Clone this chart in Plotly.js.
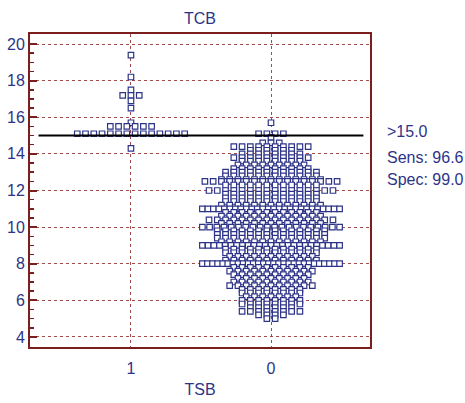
<!DOCTYPE html>
<html><head><meta charset="utf-8">
<script src="https://cdn.plot.ly/plotly-3.0.1.min.js"></script>
<style>html,body{margin:0;padding:0;background:#fff}</style>
</head><body><div id="chart" style="width:465px;height:403px"></div>
<script>
// ---- data ----
const categories = ['1', '0'];
const valuesTSB1 = [19.4, 18.2, 17.5, 17.2, 16.9, 16.5, 15.7, 15.5, 15.1, 14.3];
const countsTSB1 = [1, 1, 1, 3, 1, 1, 1, 6, 14, 1];
const valuesTSB0 = [15.7, 15.1, 14.9, 14.6, 14.4, 14.2, 14.0, 13.8, 13.6, 13.4, 13.2, 13.0,
  12.8, 12.6, 12.5, 12.3, 12.0, 11.8, 11.6, 11.4, 11.2, 11.0, 10.8, 10.6, 10.4, 10.2, 10.0,
  9.8, 9.6, 9.4, 9.2, 9.0, 8.8, 8.6, 8.4, 8.2, 8.0, 7.8, 7.6, 7.4, 7.2, 7.0,
  6.8, 6.6, 6.4, 6.2, 6.0, 5.8, 5.6, 5.4, 5.2, 5.0];
const countsTSB0 = [1, 4, 1, 3, 10, 6, 8, 10, 8, 9, 10, 12,
  12, 13, 17, 12, 16, 12, 12, 12, 13, 26, 12, 13, 16, 13, 20,
  14, 14, 14, 13, 25, 12, 12, 11, 12, 28, 10, 11, 10, 9, 10,
  11, 8, 8, 7, 8, 8, 6, 8, 4, 2];
const cutoff = 15.0;
const statLabels = ['>15.0', 'Sens: 96.6', 'Spec: 99.0'];
const yTicks = [4, 6, 8, 10, 12, 14, 16, 18, 20];

// ---- layout helpers ----
const navy = '#2d3488';
const axisRed = '#7a1e1e';
const gridRed = '#a34a4a';
const step = 0.059;      // horizontal spacing between dots (category units)
const halfMax = 0.49;    // max half width of a row

function swarm(pos, vals, cnts) {
  const xs = [], ys = [];
  vals.forEach((v, k) => {
    const n = cnts[k];
    let s = step;
    if (n > 1 && (n - 1) * s / 2 > halfMax) s = 2 * halfMax / (n - 1);
    for (let i = 0; i < n; i++) {
      xs.push(pos + (i - (n - 1) / 2) * s);
      ys.push(v);
    }
  });
  return {xs, ys};
}

const g1 = swarm(1, valuesTSB1, countsTSB1);
const g0 = swarm(2, valuesTSB0, countsTSB0);

const markerStyle = {symbol: 'square', size: 5.5, color: '#ffffff', line: {color: navy, width: 1.2}};
const traces = [
  {x: g1.xs, y: g1.ys, type: 'scatter', mode: 'markers', marker: markerStyle, hoverinfo: 'y', cliponaxis: false},
  {x: g0.xs, y: g0.ys, type: 'scatter', mode: 'markers', marker: markerStyle, hoverinfo: 'y', cliponaxis: false}
];

const layout = {
  width: 465, height: 403,
  margin: {l: 30, r: 95, t: 34, b: 56},
  paper_bgcolor: '#ffffff', plot_bgcolor: '#ffffff',
  showlegend: false,
  font: {family: 'Liberation Sans, Arial, sans-serif', color: navy, size: 16},
  title: {text: 'TCB', x: 0.43, xanchor: 'center', y: 1 - 18 / 403, yanchor: 'middle', font: {size: 16, color: navy}},
  xaxis: {
    range: [0.279, 2.707], tickvals: [1, 2], ticktext: categories,
    showgrid: true, gridcolor: gridRed, griddash: 'dot', gridwidth: 1,
    zeroline: false, showline: true, linecolor: axisRed, linewidth: 2, mirror: true,
    ticks: '', tickfont: {size: 16, color: navy}, ticklabelstandoff: 6,
    title: {text: 'TSB', font: {size: 16, color: navy}, standoff: 8}
  },
  yaxis: {
    range: [3.45, 20.55], tickvals: yTicks,
    showgrid: true, gridcolor: gridRed, griddash: 'dot', gridwidth: 1,
    zeroline: false, showline: true, linecolor: axisRed, linewidth: 2, mirror: true,
    ticks: 'inside', ticklen: 7, tickcolor: axisRed, tickwidth: 2,
    minor: {dtick: 0.5, ticks: 'inside', ticklen: 4, tickcolor: axisRed, tickwidth: 1.5, showgrid: false},
    tickfont: {size: 16, color: navy}
  },
  shapes: [{type: 'line', xref: 'x', yref: 'y', x0: 1 - 0.66, x1: 2 + 0.66, y0: cutoff, y1: cutoff,
    line: {color: '#000000', width: 2}, layer: 'above'}],
  annotations: statLabels.map((t, i) => ({
    text: t, xref: 'paper', yref: 'paper', x: 1.044, xanchor: 'left',
    y: [0.69, 0.607, 0.534][i], yanchor: 'middle', showarrow: false,
    font: {size: 16, color: navy}
  }))
};

Plotly.newPlot('chart', traces, layout, {displayModeBar: false, staticPlot: true});
</script></body></html>
